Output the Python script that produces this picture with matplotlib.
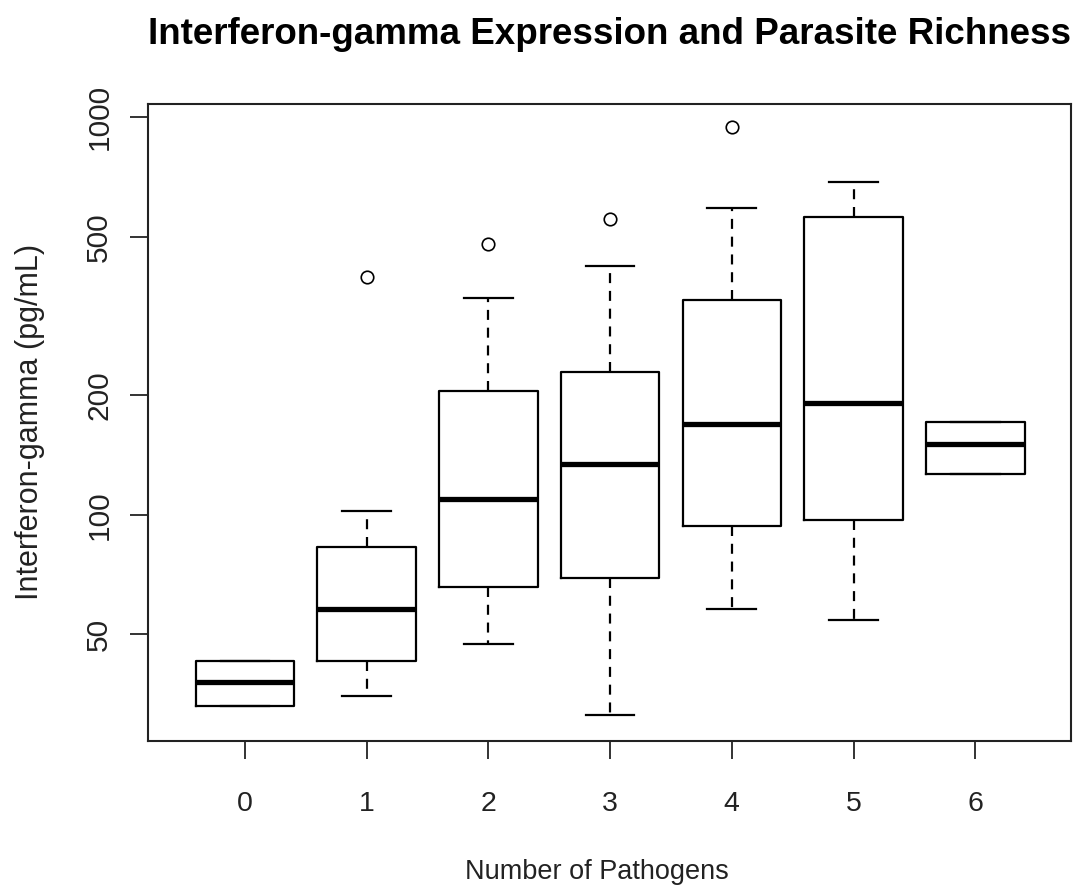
import matplotlib
matplotlib.use("Agg")
import matplotlib.pyplot as plt

plt.rcParams['font.family'] = ['Liberation Sans', 'DejaVu Sans']

# Data
categories = ['0', '1', '2', '3', '4', '5', '6']
q1_vals     = [33.1, 42.8, 65.7, 69.3, 93.7, 97.0, 126.6]
median_vals = [37.9, 57.9, 109.5, 133.9, 169.4, 191.3, 150.4]
q3_vals     = [42.8, 82.8, 204.8, 229.0, 346.0, 560.0, 171.4]
whislo_vals = [33.1, 35.0, 47.4, 31.3, 57.9, 54.2, 126.6]
whishi_vals = [42.8, 102.3, 350.0, 423.0, 592.0, 686.0, 171.4]
outlier_vals = [[], [396.0], [479.0], [554.0], [947.0], [], []]
y_ticks = [50, 100, 200, 500, 1000]

stats = []
for i, c in enumerate(categories):
    stats.append(dict(label=c, q1=q1_vals[i], med=median_vals[i], q3=q3_vals[i],
                      whislo=whislo_vals[i], whishi=whishi_vals[i],
                      fliers=outlier_vals[i]))

W, H = 1081, 888
fig = plt.figure(figsize=(W / 100, H / 100), dpi=100)
ax = fig.add_axes([148 / W, 1 - 740.7 / H, (1071 - 148) / W, (740.7 - 103.7) / H])

positions = list(range(len(categories)))
ax.bxp(stats, positions=positions, widths=0.81, showfliers=True,
       boxprops=dict(color='black', linewidth=1.6),
       medianprops=dict(color='black', linewidth=3.8, solid_capstyle='butt'),
       whiskerprops=dict(color='black', linewidth=1.6, linestyle=(0, (4.5, 3.5))),
       capprops=dict(color='black', linewidth=1.6),
       capwidths=0.4,
       flierprops=dict(marker='o', markerfacecolor='none', markeredgecolor='black',
                       markersize=9, markeredgewidth=1.2, linestyle='none'))

ax.set_yscale('log')
ax.set_ylim(27.0, 1082)
ax.set_xlim(-0.797, 6.787)

ax.set_yticks(y_ticks)
ax.set_yticklabels([str(t) for t in y_ticks], rotation=90, va='center')
ax.yaxis.set_minor_locator(matplotlib.ticker.NullLocator())
ax.set_xticks(positions)
ax.set_xticklabels(categories)

ax.tick_params(axis='both', which='major', length=13, width=1.4, color='#333333',
               labelcolor='#222222')
ax.tick_params(axis='x', pad=23, labelsize=20.5)
ax.tick_params(axis='y', pad=12, labelsize=21.5)

for s in ax.spines.values():
    s.set_linewidth(1.5)
    s.set_color('#222222')

fig.text(597 / W, 1 - 872 / H, 'Number of Pathogens', ha='center', va='center',
         fontsize=19.5, color='#222222')
fig.text(30 / W, 1 - 422 / H, 'Interferon-gamma (pg/mL)', ha='center', va='center',
         rotation=90, fontsize=22, color='#222222')
fig.text((148 + 1071) / 2 / W, 1 - 34 / H,
         'Interferon-gamma Expression and Parasite Richness',
         ha='center', va='center', fontsize=26.5, fontweight='bold', color='black')

fig.savefig('out.png', dpi=100, facecolor='white')
